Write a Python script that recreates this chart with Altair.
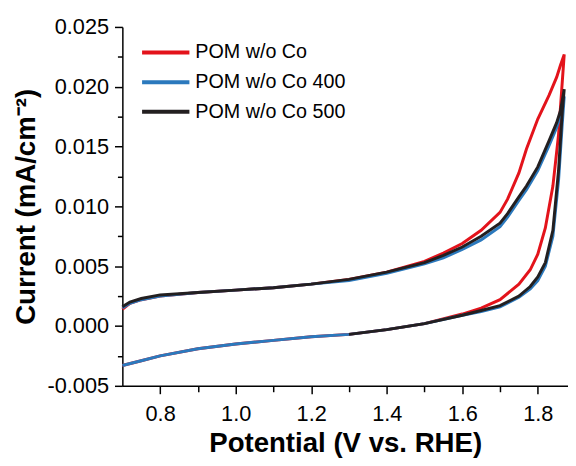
import altair as alt
import pandas as pd

series_names = ["POM w/o Co", "POM w/o Co 400", "POM w/o Co 500"]
series_colors = ["#e3131b", "#2b79bd", "#231f20"]

# lower (return) branch
x_lo = [0.70, 0.75, 0.80, 0.90, 1.00, 1.10, 1.20, 1.30, 1.40, 1.50, 1.60, 1.65,
        1.70, 1.75, 1.78, 1.80, 1.82, 1.84, 1.855, 1.865, 1.87]
red_lo = [-0.0033, -0.0029, -0.0025, -0.0019, -0.0015, -0.0012, -0.0009, -0.0007,
          -0.0003, 0.0002, 0.0010, 0.0015, 0.0022, 0.0035, 0.0047, 0.0060, 0.0082,
          0.0117, 0.0160, 0.0205, 0.0227]
blue_lo = [-0.0033, -0.0029, -0.0025, -0.0019, -0.0015, -0.0012, -0.0009, -0.0007,
           -0.0003, 0.0002, 0.0009, 0.0012, 0.0016, 0.0024, 0.0031, 0.0038, 0.0050,
           0.0075, 0.0122, 0.0170, 0.0192]
x_lo_black = [1.30, 1.40, 1.50, 1.60, 1.65, 1.70, 1.75, 1.78, 1.80, 1.82, 1.84,
              1.855, 1.865, 1.87]
black_lo = [-0.0007, -0.0003, 0.0002, 0.0009, 0.0013, 0.0017, 0.0025, 0.0033,
            0.0041, 0.0053, 0.0080, 0.0130, 0.0180, 0.0198]

# upper branch
x_up = [1.87, 1.86, 1.85, 1.83, 1.80, 1.77, 1.75, 1.72, 1.70, 1.65, 1.60, 1.55,
        1.50, 1.40, 1.30, 1.20, 1.10, 1.00, 0.90, 0.80, 0.75, 0.72, 0.70]
red_up = [0.0227, 0.0218, 0.0208, 0.0193, 0.0173, 0.0148, 0.0128, 0.0106, 0.0095,
          0.0080, 0.0069, 0.0061, 0.0054, 0.0045, 0.0039, 0.0035, 0.0032, 0.0030,
          0.0028, 0.0025, 0.0022, 0.0019, 0.0014]
blue_up = [0.0192, 0.0176, 0.0166, 0.0151, 0.0130, 0.0114, 0.0105, 0.0091, 0.0083,
           0.0072, 0.0064, 0.0057, 0.0052, 0.0044, 0.0038, 0.0035, 0.0032, 0.0030,
           0.0028, 0.0025, 0.0022, 0.0019, 0.0015]
black_up = [0.0198, 0.0180, 0.0170, 0.0155, 0.0133, 0.0117, 0.0108, 0.0094, 0.0086,
            0.0075, 0.0066, 0.0059, 0.0053, 0.0045, 0.0039, 0.0035, 0.0032, 0.0030,
            0.0028, 0.0026, 0.0023, 0.0020, 0.0016]

x_ticks = [0.8, 0.9, 1.0, 1.1, 1.2, 1.3, 1.4, 1.5, 1.6, 1.7, 1.8]
y_ticks = [-0.005, -0.0025, 0.0, 0.0025, 0.005, 0.0075, 0.01, 0.0125, 0.015,
           0.0175, 0.02, 0.0225, 0.025]

rows = []
for name, xl, yl, yu in [
    (series_names[0], x_lo, red_lo, red_up),
    (series_names[1], x_lo, blue_lo, blue_up),
    (series_names[2], x_lo_black, black_lo, black_up),
]:
    i = 0
    for xv, yv in zip(xl, yl):
        rows.append({"x": xv, "y": yv, "series": name, "idx": i}); i += 1
    for xv, yv in zip(x_up, yu):
        rows.append({"x": xv, "y": yv, "series": name, "idx": i}); i += 1
df = pd.DataFrame(rows)

FONT = "Liberation Sans"

x_major = "round(datum.value*10) % 2 == 0"
y_major = "abs(round(datum.value*10000)) % 50 == 0"

chart = alt.Chart(df).mark_line(strokeWidth=3).encode(
    x=alt.X("x:Q", scale=alt.Scale(domain=[0.7, 1.88], nice=False, zero=False),
            axis=alt.Axis(
                title="Potential (V vs. RHE)", values=x_ticks, grid=False,
                labelExpr=f"{x_major} ? format(datum.value, '.1f') : ''",
                tickSize={"condition": {"test": x_major, "value": 8}, "value": 6},
                labelPadding=10, labelFlush=False,
                titleBaseline="alphabetic", titleY=67,
                labelFontSize=22, titleFontSize=28)),
    y=alt.Y("y:Q", scale=alt.Scale(domain=[-0.005, 0.025], nice=False, zero=False),
            axis=alt.Axis(
                title="Current (mA/cm\u207b\u00b2)", values=y_ticks, grid=False,
                labelExpr=f"{y_major} ? replace(format(datum.value, '.3f'), '\u2212', '-') : ''",
                tickSize={"condition": {"test": y_major, "value": 8}, "value": 5},
                labelPadding=6, titlePadding=7,
                labelFontSize=22, titleFontSize=28)),
    color=alt.Color("series:N",
                    scale=alt.Scale(domain=series_names, range=series_colors),
                    legend=alt.Legend(title=None, orient="none", legendX=30, legendY=12,
                                      symbolType="M-2,0H2", symbolSize=576,
                                      symbolStrokeWidth=4, labelFontSize=20,
                                      labelOffset=16, rowPadding=6, padding=0,
                                      labelLimit=400, labelFont=FONT)),
    order="idx:Q",
).properties(
    width=452, height=364,
    autosize=alt.AutoSizeParams(type="none"),
    padding={"left": 116, "top": 16, "right": 0, "bottom": 70},
).configure_axis(
    labelFont=FONT, titleFont=FONT, labelColor="black", titleColor="black",
    domainColor="black", tickColor="black", domainWidth=1.5, tickWidth=1.5,
    titleFontWeight="bold",
).configure_view(stroke=None)

chart.save("out.html", embed_options={"renderer": "svg", "actions": False})
